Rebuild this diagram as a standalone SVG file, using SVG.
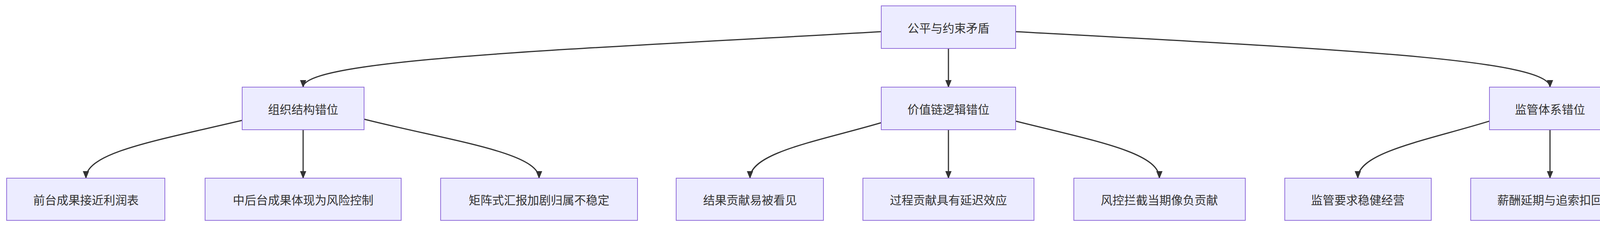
<svg xmlns="http://www.w3.org/2000/svg" width="4808" height="604" viewBox="0 0 4808 604">
<style>
.n rect{fill:#ECECFF;stroke:#9370DB;stroke-width:2}
.n text{font-family:"Noto Sans CJK SC","Liberation Sans",sans-serif;font-size:30px;fill:#333;text-anchor:middle;dominant-baseline:central}
#edges path{fill:none;stroke:#333;stroke-width:3;marker-end:url(#arr)}
</style>
<defs><marker id="arr" markerUnits="userSpaceOnUse" markerWidth="20" markerHeight="16" refX="18" refY="8" orient="auto"><path d="M0,0L20,8L0,16z" fill="#333"/></marker></defs>
<rect width="4808" height="604" fill="#fff"/>
<g id="edges">
<path d="M2256,81 C1500,125 776,150 776,223"/>
<path d="M2428,124 L2428,223"/>
<path d="M2600,81 C3400,125 3968,150 3968,223"/>
<path d="M620,308 C400,360 220,390 220,456"/>
<path d="M776,332 L776,456"/>
<path d="M932,305 C1150,360 1380,390 1380,456"/>
<path d="M2256,314 C2100,360 1920,390 1920,456"/>
<path d="M2428,332 L2428,456"/>
<path d="M2600,310 C2800,360 2968,390 2968,456"/>
<path d="M3813,310 C3650,360 3476,390 3476,456"/>
<path d="M3968,332 L3968,456"/>
<path d="M4123,306 C4350,350 4531,370 4531,432"/>
</g>
<g id="root" class="n"><rect x="2256" y="15" width="344" height="109"/><text x="2428" y="70">公平与约束矛盾</text></g>
<g id="org" class="n"><rect x="620" y="223" width="312" height="109"/><text x="776" y="278">组织结构错位</text></g>
<g id="value" class="n"><rect x="2256" y="223" width="344" height="109"/><text x="2428" y="278">价值链逻辑错位</text></g>
<g id="reg" class="n"><rect x="3813" y="223" width="310" height="109"/><text x="3968" y="278">监管体系错位</text></g>
<g id="l1" class="n"><rect x="17" y="456" width="405" height="108"/><text x="220" y="510">前台成果接近利润表</text></g>
<g id="l2" class="n"><rect x="525" y="456" width="502" height="108"/><text x="776" y="510">中后台成果体现为风险控制</text></g>
<g id="l3" class="n"><rect x="1128" y="456" width="504" height="108"/><text x="1380" y="510">矩阵式汇报加剧归属不稳定</text></g>
<g id="l4" class="n"><rect x="1731" y="456" width="377" height="108"/><text x="1920" y="510">结果贡献易被看见</text></g>
<g id="l5" class="n"><rect x="2209" y="456" width="438" height="108"/><text x="2428" y="510">过程贡献具有延迟效应</text></g>
<g id="l6" class="n"><rect x="2749" y="456" width="439" height="108"/><text x="2968" y="510">风控拦截当期像负贡献</text></g>
<g id="l7" class="n"><rect x="3289" y="456" width="375" height="108"/><text x="3476" y="510">监管要求稳健经营</text></g>
<g id="l8" class="n"><rect x="3765" y="456" width="407" height="108"/><text x="3968" y="510">薪酬延期与追索扣回</text></g>
<g id="l9" class="n"><rect x="4272" y="432" width="519" height="156"/><text x="4531" y="487">即时激励与长期约束时序矛</text><text x="4531" y="533">盾</text></g>
</svg>
